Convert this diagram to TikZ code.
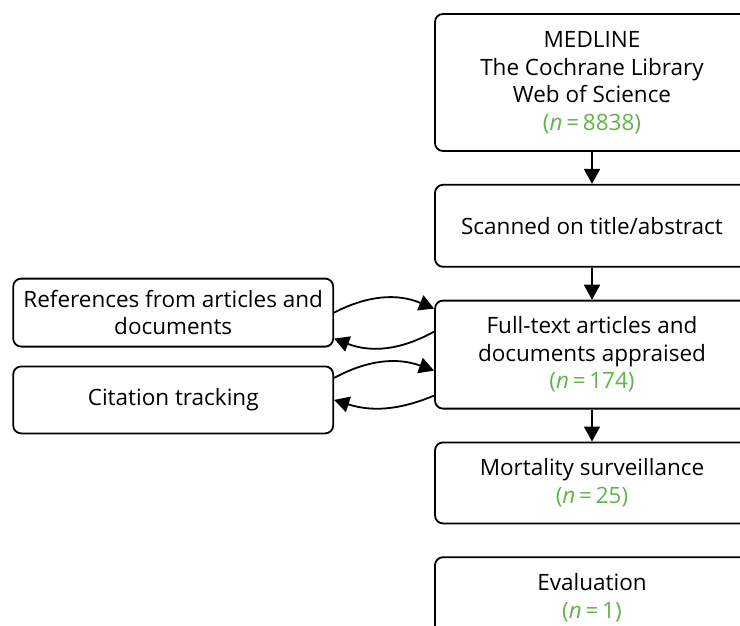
\documentclass[tikz,border=0pt]{standalone}
\usepackage{fontspec}
\setmainfont{Open Sans}
\usepackage{xcolor}
\usetikzlibrary{arrows.meta,positioning}
\definecolor{countgreen}{HTML}{62B34A}
\newcommand{\ncount}[1]{\textcolor{countgreen}{(\textit{n}\,=\,#1)}}

\begin{document}
\begin{tikzpicture}[x=1pt,y=-1pt,
  node distance=32pt and 100pt,
  stage/.style={draw,rectangle,rounded corners=8pt,minimum width=314pt,font=\fontsize{22.5}{27.5}\selectfont,align=center,line width=1.8pt,inner sep=4pt},
  source/.style={stage,minimum width=320pt},
  arr/.style={-{Triangle[length=15pt,width=16pt]},line width=1.8pt}
]
\useasboundingbox (0,0) rectangle (740,625);
\clip (0,0) rectangle (740,625);

% Search flow (right)
\node[stage,minimum height=137pt] (medline) at (592,82.5) {MEDLINE\\The Cochrane Library\\Web of Science\\\ncount{8838}};
\node[stage,minimum height=82pt,below=of medline] (scanned) {Scanned on title/abstract};
\node[stage,minimum height=108pt,below=of scanned] (fulltext) {Full-text articles and\\documents appraised\\\ncount{174}};
\node[stage,minimum height=81pt,below=of fulltext] (mortality) {Mortality surveillance\\\ncount{25}};
\node[stage,minimum height=81pt,below=of mortality] (evaluation) {Evaluation\\\ncount{1}};

% Extra sources (left)
\node[source,minimum height=68pt,left=of fulltext,yshift=42pt] (refs) {References from articles and\\documents};
\node[source,minimum height=67pt,below=18pt of refs] (citation) {Citation tracking};

% Arrows
\draw[arr] (medline) -- (scanned);
\draw[arr] (scanned) -- (fulltext);
\draw[arr] (fulltext) -- (mortality);

\draw[arr] (refs.east) to[bend left=25] ([yshift=46pt]fulltext.west);
\draw[arr] ([yshift=23pt]fulltext.west) to[bend left=25] ([yshift=-26pt]refs.east);
\draw[arr] ([yshift=22pt]citation.east) to[bend left=24] ([yshift=-16pt]fulltext.west);
\draw[arr] ([yshift=-41pt]fulltext.west) to[bend left=20] (citation.east);

\end{tikzpicture}
\end{document}
